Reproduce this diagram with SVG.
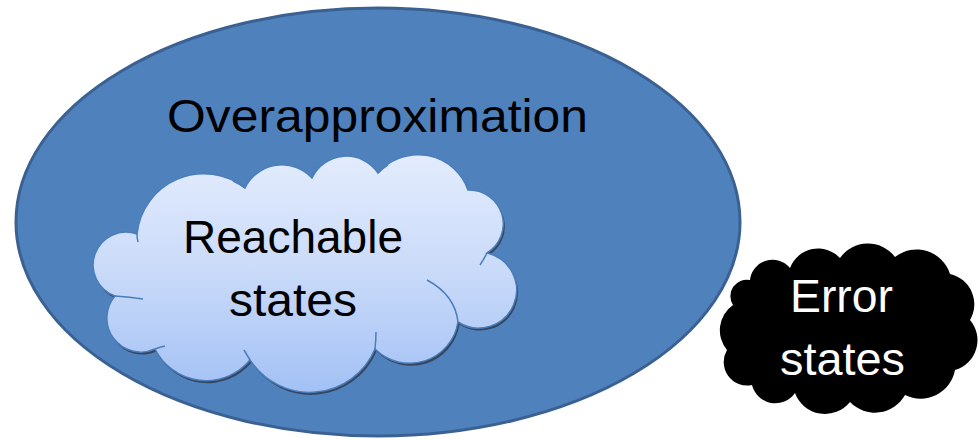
<svg xmlns="http://www.w3.org/2000/svg" width="979" height="440" viewBox="0 0 979 440">
<defs>
<linearGradient id="cg" x1="0" y1="0" x2="0" y2="1">
<stop offset="0" stop-color="#E3ECFD"/>
<stop offset="0.5" stop-color="#C9DAF9"/>
<stop offset="1" stop-color="#A3C1F5"/>
</linearGradient>
<path id="cloud" d="M137,234 A67,67 0 0 1 245,188 A41,41 0 0 1 312,178 A38,38 0 0 1 378,173 A53,53 0 0 1 468,190 A34,34 0 0 1 487,253 A38,38 0 1 1 458,322 A49,49 0 0 1 375,349 A71,71 0 0 1 250,360 A57,57 0 0 1 155,349 A34,34 0 0 1 115,296 A32,32 0 0 1 137,234 Z"/>
<style>
.lbl{font-family:"Liberation Sans","Open Sans",sans-serif;font-size:46px}
.arc{fill:none;stroke:#4A7EBB;stroke-width:1.5}
</style>
</defs>
<rect width="979" height="440" fill="#fff"/>
<g id="overapprox">
<ellipse cx="378" cy="222" rx="362" ry="214" fill="#4F81BD" stroke="#3A6192" stroke-width="3"/>
<text class="lbl" x="167" y="132" textLength="421" lengthAdjust="spacingAndGlyphs" fill="#000">Overapproximation</text>
</g>
<g id="reachable">
<use href="#cloud" transform="translate(1.5,2.5)" fill="#2e3440" opacity="0.75"/>
<use href="#cloud" fill="url(#cg)" stroke="#4A7EBB" stroke-width="1.5"/>
<g class="arc">
<path d="M137,234 Q137,238 138,242"/>
<path d="M233,181 Q240,184 245,188"/>
<path d="M312,178 Q313,172 315,167"/>
<path d="M378,173 Q382,169 388,165"/>
<path d="M468,190 Q468,184 467,178"/>
<path d="M487,253 Q484,259 480,265"/>
<path d="M427,280 Q455,295 458,322"/>
<path d="M375,349 Q376,340 376,332"/>
<path d="M250,360 Q247,355 244,350"/>
<path d="M115,296 Q130,297 143,299"/>
<path d="M155,349 Q160,347 165,346"/>
</g>
<text class="lbl" x="183" y="253" textLength="220" lengthAdjust="spacingAndGlyphs" fill="#000">Reachable</text>
<text class="lbl" x="229" y="316" textLength="128" lengthAdjust="spacingAndGlyphs" fill="#000">states</text>
</g>
<g id="error">
<path fill="#000" d="M750,280 A22.6,22.6 0 0 1 790,268 A30,30 0 0 1 840,258 A34,34 0 0 1 895,257 A35,35 0 0 1 950,274 A31,31 0 0 1 970,320 A31,31 0 0 1 955,370 A35,35 0 0 1 905,395 A34.5,34.5 0 0 1 850,402 A32,32 0 0 1 795,393 A24,24 0 0 1 752,385 A23.5,23.5 0 0 1 727,350 A30.8,30.8 0 0 1 733,305 A16.4,16.4 0 0 1 750,280 Z"/>
<text class="lbl" x="790" y="312" textLength="103" lengthAdjust="spacingAndGlyphs" fill="#fff">Error</text>
<text class="lbl" x="780" y="375" textLength="125" lengthAdjust="spacingAndGlyphs" fill="#fff">states</text>
</g>
</svg>
